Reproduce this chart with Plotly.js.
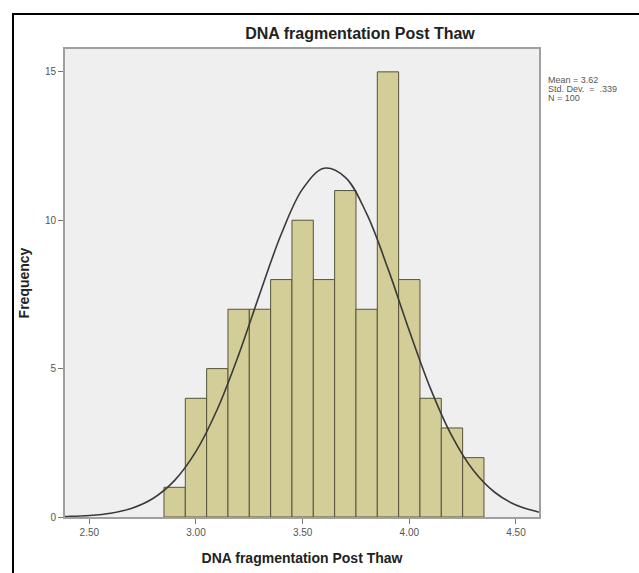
<!DOCTYPE html>
<html>
<head>
<meta charset="utf-8">
<script src="https://cdn.plot.ly/plotly-3.0.1.min.js"></script>
<style>
  html, body { margin: 0; padding: 0; background: #fff; overflow: hidden; }
  #frame { position: absolute; left: 12px; top: 13px; width: 700px; height: 700px; border: 2px solid #000; box-sizing: border-box; pointer-events: none; z-index: 5; }
  #chart { position: absolute; left: 0; top: 0; width: 639px; height: 573px; }
</style>
</head>
<body>
<div id="chart"></div>
<div id="frame"></div>
<script>
// Histogram bins (bin centres, width 0.1) and frequencies
const binCenters = [2.9, 3.0, 3.1, 3.2, 3.3, 3.4, 3.5, 3.6, 3.7, 3.8, 3.9, 4.0, 4.1, 4.2, 4.3];
const frequencies = [1, 4, 5, 7, 7, 8, 10, 8, 11, 7, 15, 8, 4, 3, 2];
const binWidth = 0.1;

// Normal curve overlay
const curveX = [2.386, 2.4, 2.5, 2.6, 2.7, 2.8, 2.9, 3.0, 3.1, 3.2, 3.3, 3.4, 3.5, 3.6, 3.7, 3.8, 3.9, 4.0, 4.1, 4.2, 4.3, 4.4, 4.5, 4.6, 4.608];
const curveY = [0.016, 0.018, 0.050, 0.127, 0.296, 0.631, 1.233, 2.209, 3.630, 5.464, 7.539, 9.535, 11.056, 11.750, 11.447, 10.222, 8.369, 6.279, 4.318, 2.724, 1.574, 0.834, 0.405, 0.180, 0.167];

// Labels
const chartTitle = "DNA fragmentation Post Thaw";
const xTitle = "DNA fragmentation Post Thaw";
const yTitle = "Frequency";
const xTickVals = [2.5, 3.0, 3.5, 4.0, 4.5];
const xTickText = ["2.50", "3.00", "3.50", "4.00", "4.50"];
const yTickVals = [0, 5, 10, 15];
const statsLines = ["Mean = 3.62", "Std. Dev.  =  .339", "N = 100"];

const FONT = "Liberation Sans, Arial, sans-serif";

const traces = [
  {
    type: "bar",
    x: binCenters,
    y: frequencies,
    width: binWidth,
    marker: { color: "#d3ce97", line: { color: "#55533a", width: 1 } },
    hoverinfo: "x+y",
    showlegend: false
  },
  {
    type: "scatter",
    mode: "lines",
    x: curveX,
    y: curveY,
    line: { color: "#3a3a3a", width: 1.6, shape: "spline" },
    hoverinfo: "skip",
    showlegend: false
  }
];

const statsY = [0.934, 0.915, 0.896];
const annotations = statsLines.map((t, i) => ({
  text: t.replace(/  /g, "&nbsp; "),
  xref: "paper", yref: "paper",
  x: 1.015, y: statsY[i],
  xanchor: "left", yanchor: "middle",
  showarrow: false,
  font: { family: FONT, size: 9, color: "#555" }
}));

const layout = {
  width: 639,
  height: 573,
  paper_bgcolor: "#ffffff",
  plot_bgcolor: "#efeff0",
  margin: { l: 65, r: 100, t: 49, b: 56, pad: 0 },
  title: {
    text: chartTitle,
    font: { family: FONT, size: 16, color: "#222", weight: "bold" },
    xref: "container", yref: "container",
    x: 360 / 639, xanchor: "center",
    y: 1 - 33 / 573, yanchor: "middle"
  },
  bargap: 0,
  xaxis: {
    range: [2.386, 4.608],
    tickvals: xTickVals,
    ticktext: xTickText,
    ticks: "outside",
    ticklen: 5,
    tickwidth: 1,
    tickcolor: "#777",
    tickfont: { family: FONT, size: 10, color: "#555" },
    showgrid: false,
    zeroline: false,
    showline: true,
    linecolor: "#a0a0a0",
    linewidth: 2,
    mirror: true,
    title: {
      text: xTitle,
      font: { family: FONT, size: 14, color: "#222", weight: "bold" },
      standoff: 16
    }
  },
  yaxis: {
    range: [0, 15.77],
    tickvals: yTickVals,
    ticks: "outside",
    ticklen: 5,
    tickwidth: 1,
    tickcolor: "#777",
    tickfont: { family: FONT, size: 10, color: "#555" },
    showgrid: false,
    zeroline: false,
    showline: true,
    linecolor: "#a0a0a0",
    linewidth: 2,
    mirror: true,
    title: {
      text: yTitle,
      font: { family: FONT, size: 14, color: "#222", weight: "bold" },
      standoff: 12
    }
  },
  annotations: annotations
};

Plotly.newPlot("chart", traces, layout, { displayModeBar: false, staticPlot: true });
</script>
</body>
</html>
